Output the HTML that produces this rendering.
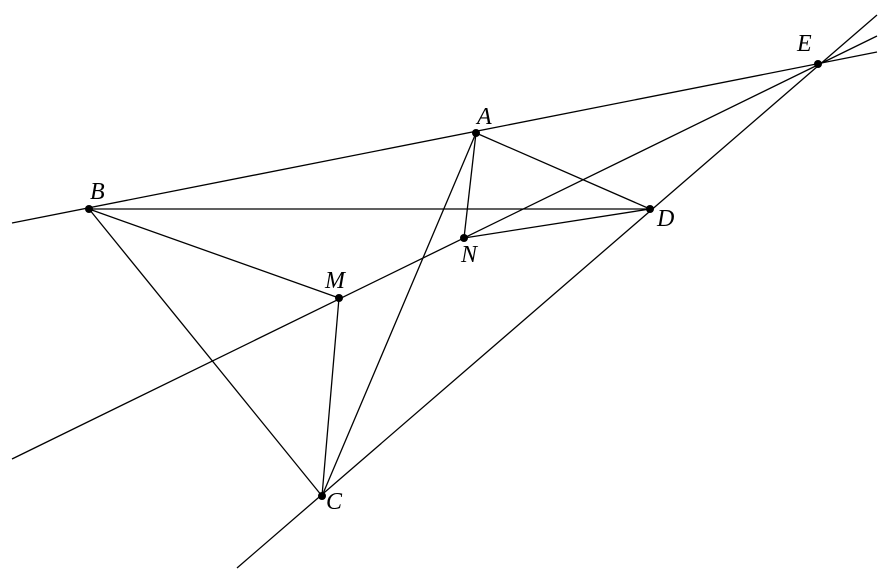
<!DOCTYPE html>
<html><head><style>html,body{margin:0;padding:0;background:#fff}</style></head>
<body>
<svg width="890" height="573" xmlns="http://www.w3.org/2000/svg" style="display:block">
<g stroke="#000" stroke-width="1.3" fill="none">
<line x1="12" y1="223" x2="877" y2="52"/>
<line x1="12" y1="459" x2="877" y2="36"/>
<line x1="237" y1="568" x2="877" y2="15"/>
<line x1="89" y1="209" x2="650" y2="209"/>
<line x1="89" y1="209" x2="339" y2="298"/>
<line x1="89" y1="209" x2="322" y2="496"/>
<line x1="476" y1="133" x2="322" y2="496"/>
<line x1="476" y1="133" x2="464" y2="238"/>
<line x1="476" y1="133" x2="650" y2="209"/>
<line x1="464" y1="238" x2="650" y2="209"/>
<line x1="339" y1="298" x2="322" y2="496"/>
</g>
<g fill="#000">
<circle cx="818" cy="64" r="4"/><circle cx="476" cy="133" r="4"/>
<circle cx="89" cy="209" r="4"/><circle cx="650" cy="209" r="4"/>
<circle cx="464" cy="238" r="4"/><circle cx="339" cy="298" r="4"/>
<circle cx="322" cy="496" r="4"/>
</g>
<g font-family="'Liberation Serif', serif" font-style="italic" font-size="24" fill="#000">
<text x="797" y="51">E</text><text x="477" y="124">A</text>
<text x="90" y="199">B</text><text x="657" y="226">D</text>
<text x="461" y="262">N</text><text x="325" y="288">M</text>
<text x="326" y="509">C</text>
</g>
</svg>
</body></html>
